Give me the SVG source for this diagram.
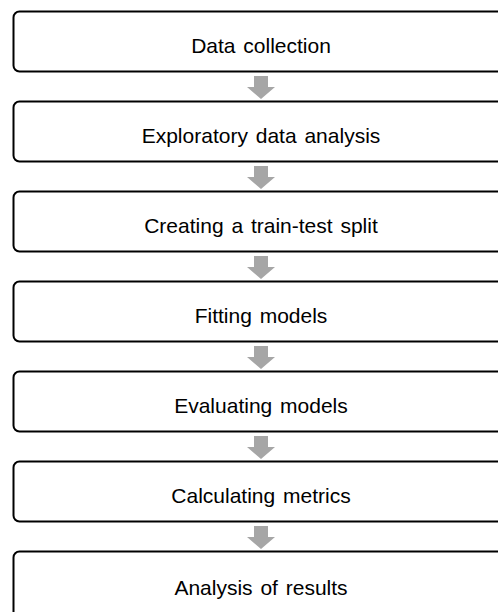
<svg xmlns="http://www.w3.org/2000/svg" width="498" height="612" viewBox="0 0 498 612">
<style>
.box{fill:#fff;stroke:#000;stroke-width:2}
.lbl{font-family:"Liberation Sans",Arial,sans-serif;font-size:21px;word-spacing:2px;fill:#000;text-anchor:middle;dominant-baseline:central}
.arr{fill:#a6a6a6}
</style>
<defs>
<path id="dn" d="M-7,0 H7 V11 H14 L0,23 L-14,11 H-7 Z"/>
</defs>
<rect width="498" height="612" fill="#fff"/>
<g id="connectors">
<use href="#dn" class="arr" x="261" y="76"/>
<use href="#dn" class="arr" x="261" y="166"/>
<use href="#dn" class="arr" x="261" y="256"/>
<use href="#dn" class="arr" x="261" y="346"/>
<use href="#dn" class="arr" x="261" y="436"/>
<use href="#dn" class="arr" x="261" y="526"/>
</g>
<g id="n1"><rect class="box" x="13.5" y="11.5" width="496" height="60" rx="6"/><text class="lbl" x="261" y="45">Data collection</text></g>
<g id="n2"><rect class="box" x="13.5" y="101.5" width="496" height="60" rx="6"/><text class="lbl" x="261" y="135">Exploratory data analysis</text></g>
<g id="n3"><rect class="box" x="13.5" y="191.5" width="496" height="60" rx="6"/><text class="lbl" x="261" y="225">Creating a train-test split</text></g>
<g id="n4"><rect class="box" x="13.5" y="281.5" width="496" height="60" rx="6"/><text class="lbl" x="261" y="315">Fitting models</text></g>
<g id="n5"><rect class="box" x="13.5" y="371.5" width="496" height="60" rx="6"/><text class="lbl" x="261" y="405">Evaluating models</text></g>
<g id="n6"><rect class="box" x="13.5" y="461.5" width="496" height="60" rx="6"/><text class="lbl" x="261" y="495">Calculating metrics</text></g>
<g id="n7"><rect class="box" x="13.5" y="551.5" width="496" height="70" rx="6"/><text class="lbl" x="261" y="587">Analysis of results</text></g>
</svg>
